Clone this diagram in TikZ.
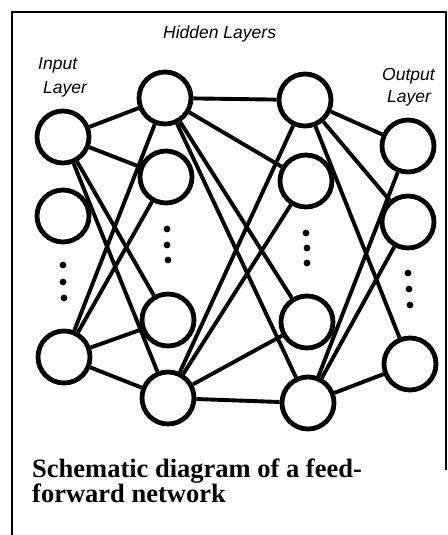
\documentclass[tikz,border=0pt]{standalone}
\usepackage{fontspec}
\setmainfont{Liberation Serif}
\setsansfont{Liberation Sans}
\begin{document}
\begin{tikzpicture}[x=1pt,y=-1pt,
  neuron/.style={circle,draw,fill=white,line width=4.8pt,inner sep=0pt,minimum size=52pt},
  link/.style={line width=3.9pt},
  layerlabel/.style={font=\sffamily\itshape\fontsize{17.5}{22}\selectfont,anchor=base west,inner sep=0pt},
  caption/.style={font=\rmfamily\bfseries\fontsize{26.5}{25}\selectfont,anchor=base west,inner sep=0pt},
  gap/.style={radius=3.4pt}]
\useasboundingbox (0,0) rectangle (447,535);

% frame
\draw[line width=1.5pt] (12,535) -- (12,12) -- (447,12);
\draw[line width=1.5pt] (446,12) -- (446,470);

% labels
\node[layerlabel] (hid) at (163,39) {Hidden Layers};
\node[layerlabel] (in1) at (38,70) {Input};
\node[layerlabel] (in2) at (43,93) {Layer};
\node[layerlabel] (out1) at (382,80) {Output};
\node[layerlabel] (out2) at (387,102) {Layer};

% input layer
\node[neuron] (I1) at (63,137) {};
\node[neuron] (I2) at (63,216) {};
\node[neuron] (I3) at (64,357) {};
% first hidden layer
\node[neuron] (H1a) at (165,98) {};
\node[neuron] (H1b) at (166,177) {};
\node[neuron] (H1c) at (168,320) {};
\node[neuron] (H1d) at (168,398) {};
% second hidden layer
\node[neuron] (H2a) at (305,100) {};
\node[neuron] (H2b) at (306,181) {};
\node[neuron] (H2c) at (307,322) {};
\node[neuron] (H2d) at (308,403) {};
% output layer
\node[neuron] (O1) at (408,146) {};
\node[neuron] (O2) at (408,222) {};
\node[neuron] (O3) at (410,364) {};

% connections
\foreach \a in {I1,I3}
  \foreach \b in {H1a,H1b,H1c,H1d}
    \draw[link] (\a) -- (\b);
\foreach \a in {H1a,H1d}
  \foreach \b in {H2a,H2b,H2c,H2d}
    \draw[link] (\a) -- (\b);
\foreach \a in {H2a,H2d}
  \foreach \b in {O1,O2,O3}
    \draw[link] (\a) -- (\b);

% ellipsis dots
\fill (63,265) circle[gap] (63,282) circle[gap] (64,298) circle[gap];
\fill (167,229) circle[gap] (167,245) circle[gap] (168,260) circle[gap];
\fill (306,233) circle[gap] (307,248) circle[gap] (307,263) circle[gap];
\fill (408,273) circle[gap] (409,289) circle[gap] (410,305) circle[gap];

% caption
\node[caption] (cap1) at (32,477) {Schematic diagram of a feed-};
\node[caption] (cap2) at (32,502) {forward network};
\end{tikzpicture}
\end{document}
